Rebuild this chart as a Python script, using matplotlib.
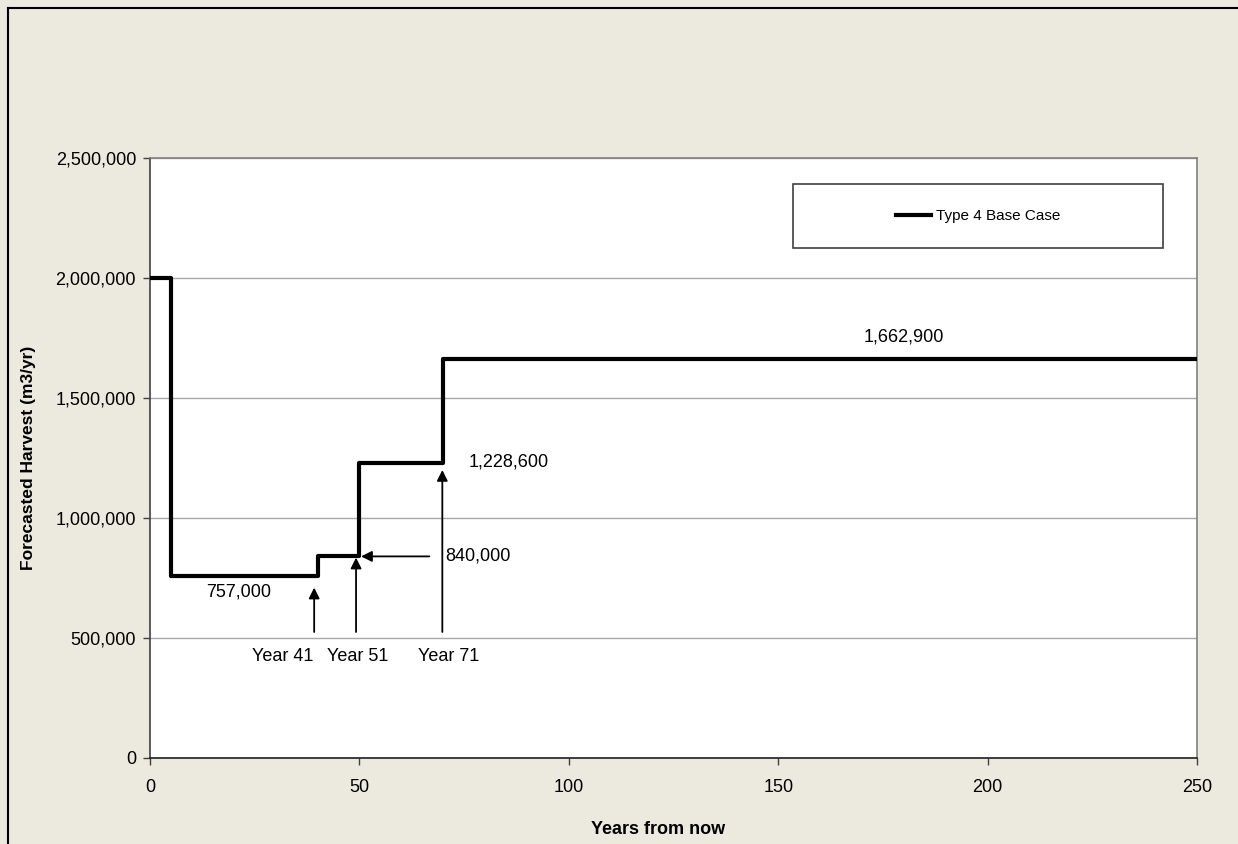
import matplotlib.pyplot as plt
from matplotlib.lines import Line2D
from matplotlib.patches import Rectangle
from matplotlib.ticker import FuncFormatter

plt.rcParams['font.family'] = ['Liberation Sans', 'DejaVu Sans']

# step boundaries (years) and harvest level for each period
breaks = [0, 5, 40, 50, 70, 250]
harvest = [2000000, 757000, 840000, 1228600, 1662900]
series_name = "Type 4 Base Case"

# labels for the period changes
year_labels = ["Year 41", "Year 51", "Year 71"]

bg = '#ECEADF'
fig = plt.figure(figsize=(12.38, 8.44), dpi=100, facecolor=bg)
ax = fig.add_axes([150/1238, 1-758/844, 1047/1238, 600/844])
ax.set_facecolor('white')

# figure border (only top and left visible in the original crop)
fig.add_artist(Line2D([8/1238, 1], [1-8/844, 1-8/844], transform=fig.transFigure, color='black', lw=1.5))
fig.add_artist(Line2D([8/1238, 8/1238], [0, 1-8/844], transform=fig.transFigure, color='black', lw=1.5))

xs = breaks
ys = harvest + [harvest[-1]]
ax.step(xs, ys, where='post', color='black', lw=3, label=series_name, zorder=3)

ax.set_xlim(0, 250)
ax.set_ylim(0, 2500000)
ax.set_xticks([0, 50, 100, 150, 200, 250])
ax.set_yticks([0, 500000, 1000000, 1500000, 2000000, 2500000])
ax.yaxis.set_major_formatter(FuncFormatter(lambda v, p: f"{v:,.0f}"))
ax.tick_params(axis='both', labelsize=13, direction='out', length=5, width=1, color='#404040')
ax.tick_params(axis='x', pad=10)
ax.tick_params(axis='y', pad=5)
ax.yaxis.grid(True, color='#A8A8A8', lw=1)
ax.set_axisbelow(True)
for s in ['top', 'right']:
    ax.spines[s].set_color('#808080')
ax.spines['left'].set_color('#404040')
ax.spines['bottom'].set_color('#202020')
for s in ax.spines.values():
    s.set_linewidth(1.2)

ax.set_ylabel("Forecasted Harvest (m3/yr)", fontsize=12.5, fontweight='bold', labelpad=14)
fig.text(658/1238, 1-829/844, "Years from now", fontsize=13, fontweight='bold', ha='center', va='center')

# value labels
ax.text(21.2, 692000, f"{harvest[1]:,}", fontsize=13, ha='center', va='center')
ax.text(70.6, 840000, f"{harvest[2]:,}", fontsize=13, ha='left', va='center')
ax.text(76, 1235000, f"{harvest[3]:,}", fontsize=13, ha='left', va='center')
ax.text(180, 1754000, f"{harvest[4]:,}", fontsize=13, ha='center', va='center')

arrow = dict(arrowstyle='-|>', color='black', lw=1.3, mutation_scale=16, shrinkA=0, shrinkB=0)
# vertical arrows from year labels
ax.annotate("", xy=(39.2, 710000), xytext=(39.2, 525000), arrowprops=arrow)
ax.annotate("", xy=(49.2, 835000), xytext=(49.2, 525000), arrowprops=arrow)
ax.annotate("", xy=(69.8, 1200000), xytext=(69.8, 525000), arrowprops=arrow)
# horizontal arrow to 840,000 step
ax.annotate("", xy=(50.4, 840000), xytext=(66.7, 840000), arrowprops=arrow)

for lab, xc in zip(year_labels, [31.8, 49.7, 71.2]):
    ax.text(xc, 421000, lab, fontsize=13, ha='center', va='center')

# legend box
ax.add_patch(Rectangle((0.614, 0.85), 0.354, 0.107, transform=ax.transAxes,
                       facecolor='white', edgecolor='#404040', lw=1.2, zorder=4))
leg = ax.legend(loc='center', bbox_to_anchor=(0.791, 0.9035), frameon=False, fontsize=11,
                handlelength=2.3, handletextpad=0.3)
leg.set_zorder(5)

fig.savefig('out.png', dpi=100, facecolor=bg)
